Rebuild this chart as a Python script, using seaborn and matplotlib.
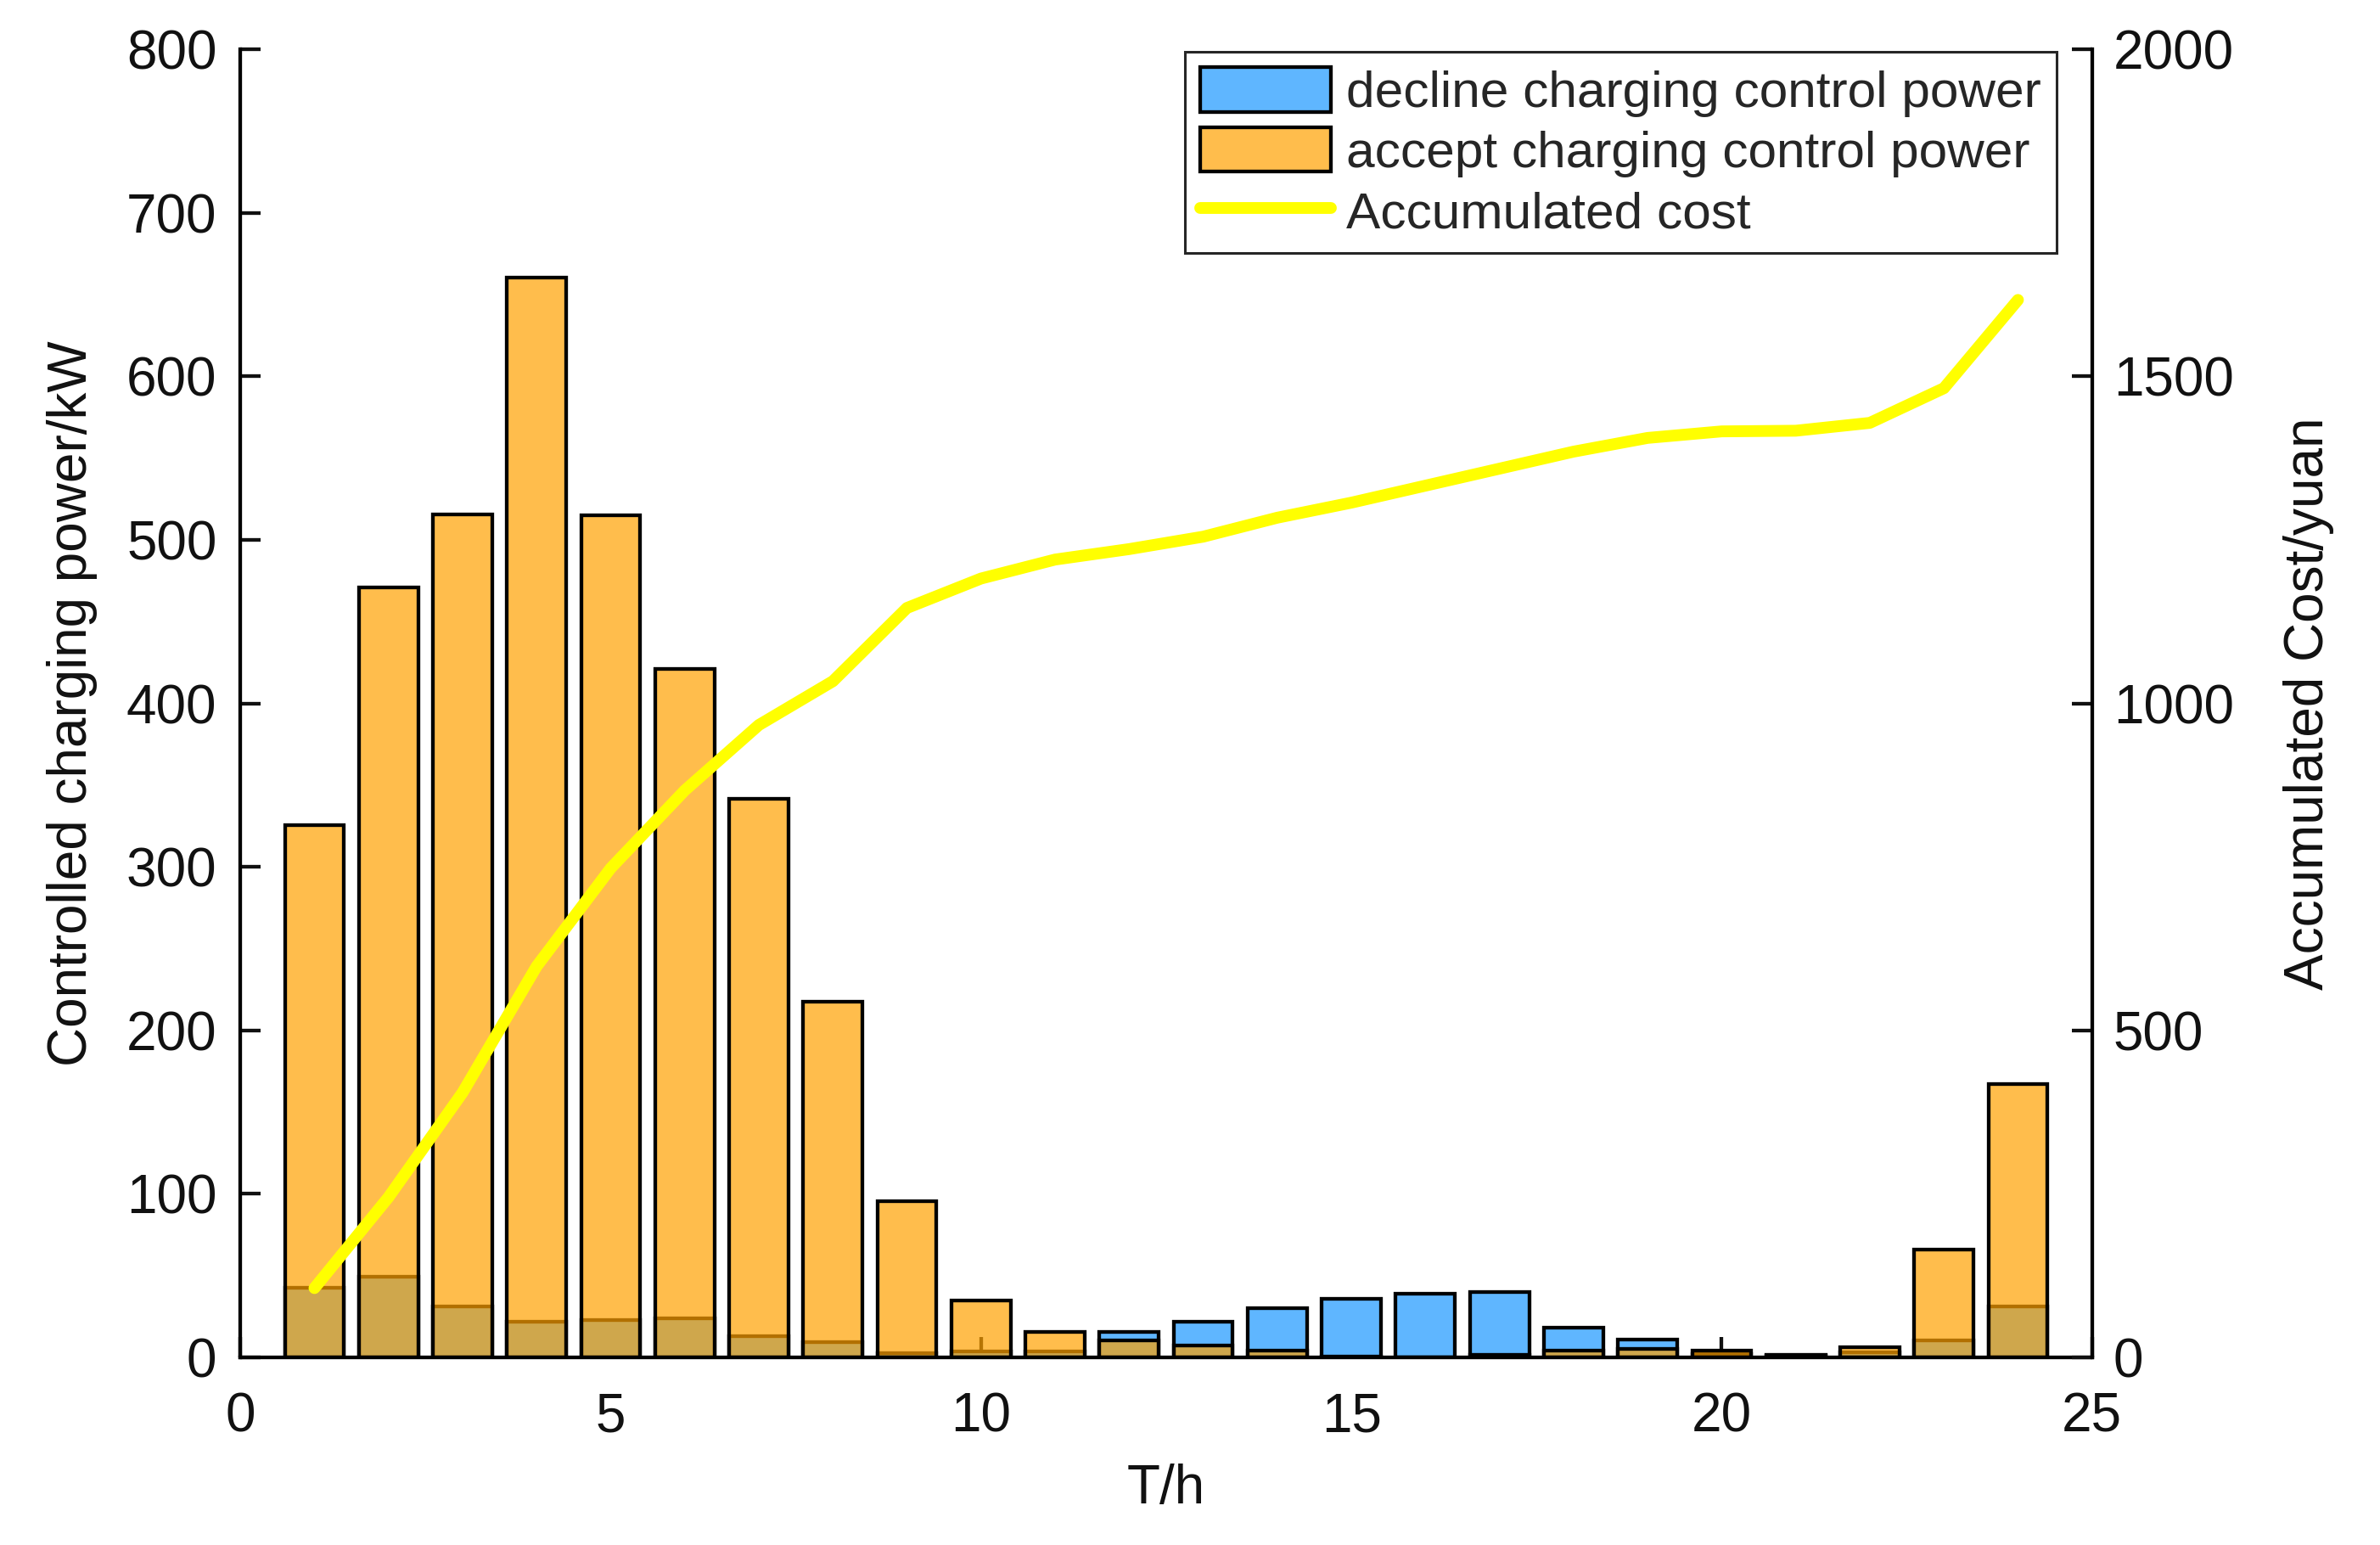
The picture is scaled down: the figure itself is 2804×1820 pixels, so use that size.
import numpy as np
import pandas as pd
import matplotlib
matplotlib.use("Agg")
import matplotlib.pyplot as plt
import seaborn as sns
from matplotlib.patches import Patch
from matplotlib.lines import Line2D

# hourly data
hours = list(range(1, 25))
accept_power = [325.7, 471, 515.7, 660.6, 515.2, 421, 341.6, 217.5, 95.7, 35, 15.7, 10.6,
                7.4, 4, 0.6, 0, 1.5, 4, 5, 4, 1, 6, 66, 167]
decline_power = [42.4, 49.1, 31, 21.6, 22.7, 23.7, 12.8, 9.5, 2.4, 3.5, 3.8, 15.7,
                 21.6, 30.3, 36, 39.1, 39.8, 18.3, 11.1, 2.2, 1.5, 3.3, 10.6, 31.1]
accum_cost = [106, 245, 405, 598, 748, 867, 967, 1034, 1146, 1191, 1220, 1236,
              1255, 1284, 1307, 1333, 1359, 1385, 1406, 1416, 1417, 1429, 1482, 1617]

left_ticks = [0, 100, 200, 300, 400, 500, 600, 700, 800]
right_ticks = [0, 500, 1000, 1500, 2000]
x_ticks = [0, 5, 10, 15, 20, 25]

labels = ["decline charging control power", "accept charging control power", "Accumulated cost"]

df = pd.DataFrame({"hour": hours, "accept": accept_power,
                   "decline": decline_power, "cost": accum_cost})

sns.set_theme(style="white")
plt.rcParams["font.family"] = ["Liberation Sans", "DejaVu Sans"]

blue = "#5FB6FF"
orange = (1.0, 0.63, 0.0, 0.7)
txt = "#111111"
fs = 46
lw = 3.1

fig, ax = plt.subplots(figsize=(28.04, 18.2), dpi=100)
fig.subplots_adjust(left=0.101, right=0.879, bottom=0.1214, top=0.968)

# blue bars first, transparent orange bars on top
sns.barplot(data=df, x="hour", y="decline", native_scale=True, width=0.8,
            color=blue, saturation=1, errorbar=None, ax=ax)
n_blue = len(ax.patches)
sns.barplot(data=df, x="hour", y="accept", native_scale=True, width=0.8,
            color="orange", saturation=1, errorbar=None, ax=ax)
for i, p in enumerate(ax.patches):
    p.set_edgecolor("black")
    p.set_linewidth(lw)
    if i < n_blue:
        p.set_facecolor(blue)
        p.set_zorder(1)
    else:
        p.set_facecolor(orange)
        p.set_zorder(1.1)

ax.set_xlim(0, 25)
ax.set_ylim(0, 800)
ax.set_xticks(x_ticks)
ax.set_yticks(left_ticks)
ax.set_axisbelow(True)
ax.set_xlabel("T/h", fontsize=fs, color=txt, labelpad=18)
ax.set_ylabel("Controlled charging power/kW", fontsize=fs, color=txt, labelpad=24)
ax.tick_params(axis="both", direction="in", length=17, width=lw, colors=txt,
               labelsize=fs, left=True, bottom=True, right=False, top=False)
ax.tick_params(axis="x", pad=29)
ax.tick_params(axis="y", pad=20)
for s in ["top", "right"]:
    ax.spines[s].set_visible(False)
for s in ["left", "bottom"]:
    ax.spines[s].set_linewidth(lw)
    ax.spines[s].set_color("black")

ax2 = ax.twinx()
sns.lineplot(data=df, x="hour", y="cost", color="#FFFF00", linewidth=10, ax=ax2)
ax2.set_ylim(0, 2000)
ax2.set_yticks(right_ticks)
ax2.set_ylabel("Accumulated Cost/yuan", fontsize=fs, color=txt, labelpad=42)
ax2.tick_params(axis="y", direction="in", length=17, width=lw, colors=txt,
                labelsize=fs, pad=18, right=True, left=False)
for s in ["top", "left", "bottom"]:
    ax2.spines[s].set_visible(False)
ax2.spines["right"].set_linewidth(lw)
ax2.spines["right"].set_color("black")

handles = [Patch(facecolor=blue, edgecolor="black", linewidth=lw),
           Patch(facecolor=orange, edgecolor="black", linewidth=lw),
           Line2D([0], [0], color="#FFFF00", linewidth=10)]
leg = ax2.legend(handles, labels, loc="upper right", bbox_to_anchor=(0.981, 0.998),
                 borderaxespad=0, fontsize=43.5, frameon=True, fancybox=False,
                 framealpha=1, edgecolor="#262626", handlelength=2.55,
                 handleheight=0.95, handletextpad=0.3, labelspacing=0.2,
                 borderpad=0.3)
leg.get_frame().set_linewidth(2.2)

fig.savefig("out.png", dpi=100, facecolor="white")
